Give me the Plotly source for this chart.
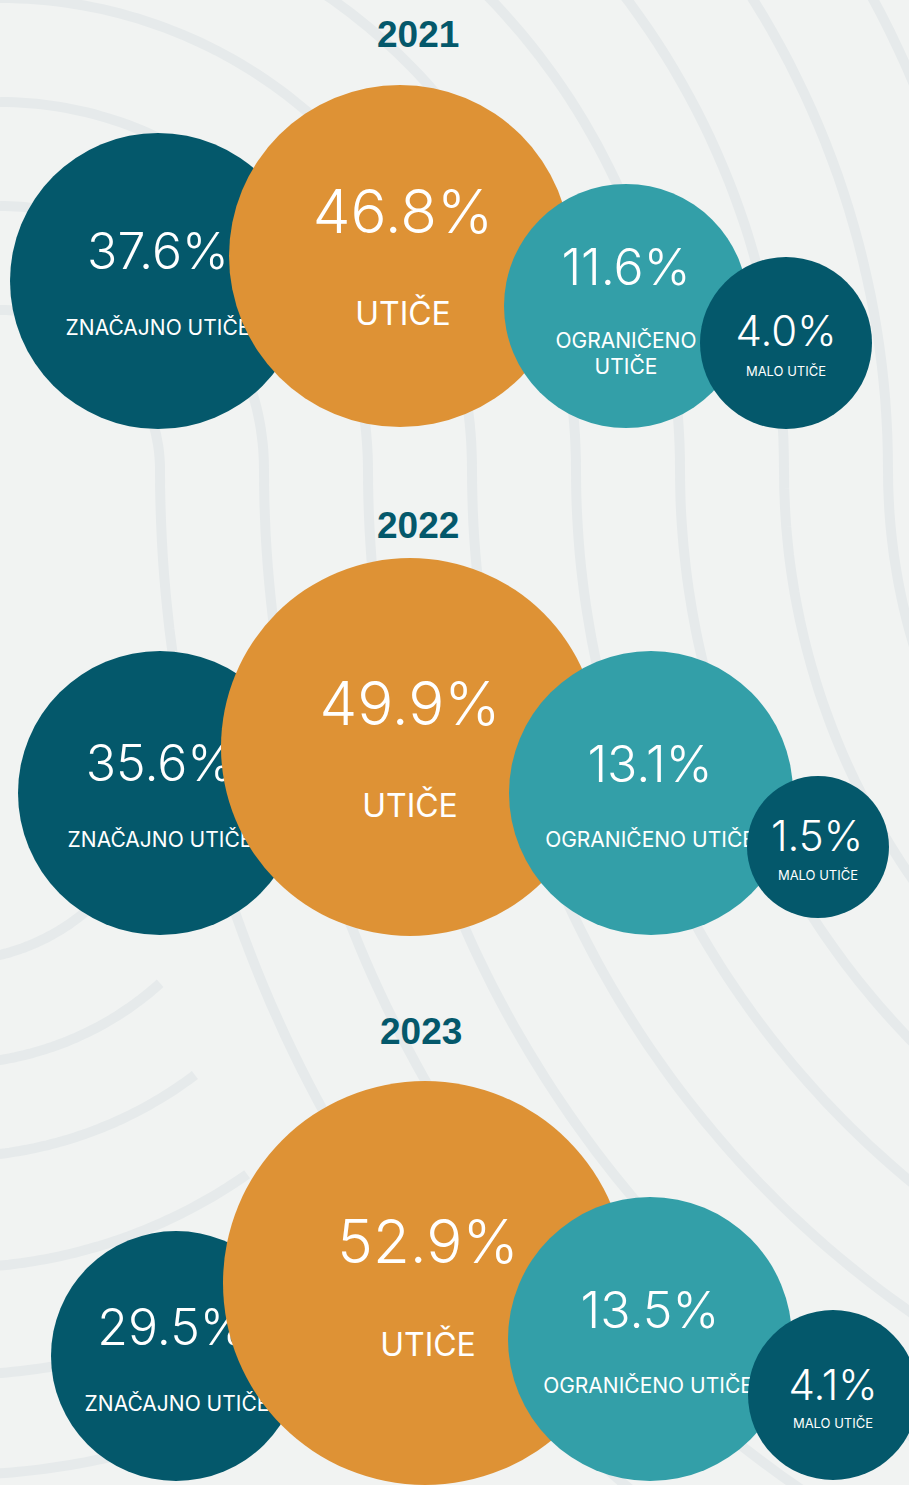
import numpy as np
import plotly.graph_objects as go

# ---------------- data ----------------
years = ["2021", "2022", "2023"]
categories = ["ZNAČAJNO UTIČE", "UTIČE", "OGRANIČENO UTIČE", "MALO UTIČE"]
values_2021 = [37.6, 46.8, 11.6, 4.0]
values_2022 = [35.6, 49.9, 13.1, 1.5]
values_2023 = [29.5, 52.9, 13.5, 4.1]
values_by_year = [values_2021, values_2022, values_2023]

# ---------------- layout (positions / sizes in page pixels) ----------------
W, H = 909, 1485
title_pos = [(418, 34), (418, 525), (421, 1031)]
bubble_cx = [[158, 400, 626, 786], [160, 410, 651, 818], [176, 425, 650, 833]]
bubble_cy = [[281, 256, 306, 343], [793, 747, 793, 847], [1356, 1283, 1339, 1395]]
bubble_r = [[148, 171, 122, 86], [142, 189, 142, 71], [125, 202, 142, 85]]
value_xy = [
    [(158, 256), (403, 218), (626, 272), (786, 335)],
    [(160, 768), (410, 710), (650, 769), (817, 840)],
    [(172, 1332), (428, 1248), (650, 1315), (833, 1389)],
]
label_xy = [
    [(158, 330), (403, 317), (626, 343), (786, 373)],
    [(160, 842), (410, 809), (650, 842), (818, 877)],
    [(177, 1406), (428, 1348), (648, 1388), (833, 1425)],
]
# label line splits (which words go on which line) per row
label_lines = [
    [["ZNAČAJNO UTIČE"], ["UTIČE"], ["OGRANIČENO", "UTIČE"], ["MALO UTIČE"]],
    [["ZNAČAJNO UTIČE"], ["UTIČE"], ["OGRANIČENO UTIČE"], ["MALO UTIČE"]],
    [["ZNAČAJNO UTIČE"], ["UTIČE"], ["OGRANIČENO UTIČE"], ["MALO UTIČE"]],
]
line_gap = 26
value_size = [50, 60, 50, 42]
label_size = [21, 32, 21, 13]

# ---------------- styles ----------------
DARK = "#04586B"
ORANGE = "#DE9235"
TEAL = "#339FA8"
colors = [DARK, ORANGE, TEAL, DARK]
BG = "#F1F3F2"
DECO = "#E6EAEB"
NUM_FONT = "Inter"

fig = go.Figure()

for yi, year in enumerate(years):
    vals = values_by_year[yi]
    for ci, cat in enumerate(categories):
        fig.add_trace(go.Scatter(
            x=[bubble_cx[yi][ci]], y=[bubble_cy[yi][ci]],
            mode="markers",
            marker=dict(size=2 * bubble_r[yi][ci], color=colors[ci], line=dict(width=0), opacity=1),
            hoverinfo="skip", showlegend=False,
        ))
        vx, vy = value_xy[yi][ci]
        fig.add_trace(go.Scatter(
            x=[vx], y=[vy], mode="text", text=[f"{vals[ci]:.1f}%"],
            textposition="middle center",
            textfont=dict(family=NUM_FONT, size=value_size[ci], color="white", weight=300),
            hoverinfo="skip", showlegend=False,
        ))
        lx, ly = label_xy[yi][ci]
        lines = label_lines[yi][ci]
        fig.add_trace(go.Scatter(
            x=[lx] * len(lines), y=[ly + k * line_gap for k in range(len(lines))],
            mode="text", text=lines,
            textposition="middle center",
            textfont=dict(family=NUM_FONT, size=label_size[ci], color="white", weight=400),
            hoverinfo="skip", showlegend=False,
        ))
    tx, ty = title_pos[yi]
    fig.add_annotation(x=tx, y=ty, text=f"<b>{year}</b>", showarrow=False,
                       font=dict(family="Liberation Sans", size=37, color=DARK),
                       xanchor="center", yanchor="middle")

# ---------------- decorative background arcs ----------------
def path_from(xs, ys):
    pts = " L ".join(f"{x:.1f},{y:.1f}" for x, y in zip(xs, ys))
    return "M " + pts

shapes = []
a_center = (0.0, 470.0)
b_cx = 1500.0
for i in range(11):
    ra = 160 + 104 * i
    th1 = np.linspace(-np.pi / 2, 0, 80)
    xa = a_center[0] + ra * np.cos(th1)
    ya = a_center[1] + ra * np.sin(th1)
    rb = b_cx - ra
    xs, ys = list(xa), list(ya)
    if rb > 0:
        th2 = np.linspace(np.pi, np.pi / 2, 120)
        xb = b_cx + rb * np.cos(th2)
        yb = a_center[1] + rb * np.sin(th2)
        xs += list(xb)
        ys += list(yb)
    shapes.append(dict(type="path", path=path_from(xs, ys), xref="x", yref="y",
                       line=dict(color=DECO, width=10), layer="below"))

c_center = (-50.0, 750.0)
c_radii = [211, 314, 407, 518, 625, 725]
c_end = [45, 48, 53, 55, 57, 58]
for r, e in zip(c_radii, c_end):
    th = np.linspace(np.radians(100), np.radians(e), 80)
    xs = c_center[0] + r * np.cos(th)
    ys = c_center[1] + r * np.sin(th)
    shapes.append(dict(type="path", path=path_from(xs, ys), xref="x", yref="y",
                       line=dict(color=DECO, width=10), layer="below"))

fig.update_layout(
    width=W, height=H,
    margin=dict(l=0, r=0, t=0, b=0),
    paper_bgcolor=BG, plot_bgcolor=BG,
    xaxis=dict(range=[0, W], visible=False, fixedrange=True),
    yaxis=dict(range=[H, 0], visible=False, fixedrange=True),
    shapes=shapes,
    showlegend=False,
)

fig.write_html("out.html", config={"displayModeBar": False},
               post_script="document.body.style.margin='0';document.body.style.overflow='hidden';")
